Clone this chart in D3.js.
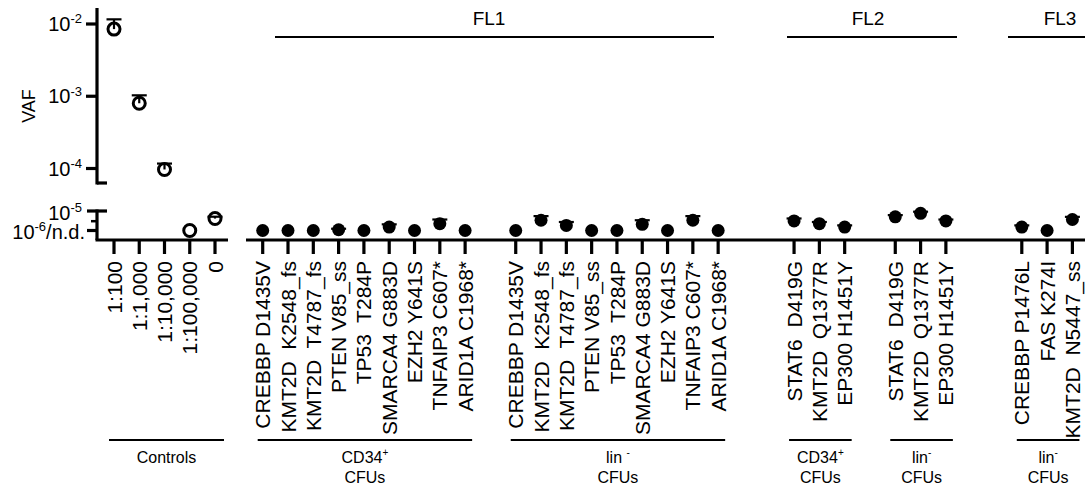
<!DOCTYPE html>
<html>
<head>
<meta charset="utf-8">
<script src="https://cdn.jsdelivr.net/npm/d3@7"></script>
<style>
  html, body { margin: 0; padding: 0; background: #fff; }
  svg { display: block; font-family: "Liberation Sans", Arial, sans-serif; }
  text { white-space: pre; }
</style>
</head>
<body>
<svg id="chart" width="1085" height="490"></svg>
<script>
// ---- Data -------------------------------------------------------------
// Dilution controls (open circles)
const controlLabels = ["1:100", "1:1,000", "1:10,000", "1:100,000", "0"];
const controlVaf    = [8.5e-3, 8.0e-4, 9.7e-5, 1e-6, 4.1e-6];
const controlUpper  = [1.16e-2, 1.03e-3, 1.17e-4, null, 5.1e-6];

// FL1 mutations
const fl1Mutations = ["CREBBP D1435V", "KMT2D  K2548_fs", "KMT2D  T4787_fs", "PTEN V85_ss",
                      "TP53  T284P", "SMARCA4 G883D", "EZH2 Y641S", "TNFAIP3 C607*", "ARID1A C1968*"];
const fl1Cd34Vaf   = [1e-6, 1e-6, 1e-6, 1.09e-6, 1e-6, 1.49e-6, 1e-6, 2.25e-6, 1e-6];
const fl1Cd34Upper = [null, null, null, 1.23e-6, null, 2.07e-6, null, 3.66e-6, null];
const fl1LinVaf    = [1e-6, 3.36e-6, 1.83e-6, 1e-6, 1e-6, 2.07e-6, 1e-6, 3.36e-6, 1e-6];
const fl1LinUpper  = [null, 5.46e-6, 2.73e-6, null, null, 3.36e-6, null, 5.46e-6, null];

// FL2 mutations
const fl2Mutations = ["STAT6  D419G", "KMT2D  Q1377R", "EP300 H1451Y"];
const fl2Cd34Vaf   = [3.09e-6, 2.25e-6, 1.49e-6];
const fl2Cd34Upper = [4.13e-6, 2.73e-6, 1.83e-6];
const fl2LinVaf    = [5.01e-6, 7.57e-6, 3.09e-6];
const fl2LinUpper  = [6.16e-6, 9.19e-6, 3.66e-6];

// FL3 mutations
const fl3Mutations = ["CREBBP P1476L", "FAS K274I", "KMT2D  N5447_ss"];
const fl3LinVaf    = [1.49e-6, 1e-6, 3.66e-6];
const fl3LinUpper  = [1.83e-6, null, 5.01e-6];

// Y tick labels: [value, exponent, suffix]
const upperTicks = [[1e-2, "-2", ""], [1e-3, "-3", ""], [1e-4, "-4", ""]];
const lowerTicks = [[1e-5, "-5", ""], [1e-6, "-6", "/n.d."]];

// ---- Layout -----------------------------------------------------------
const svg = d3.select("#chart");
const FONT = 20;
const XFONT = 21;
const baseY = 240;
const axisX = 97;

// broken log axis: upper panel and lower (near-detection-limit) panel
const yUpper = d3.scaleLog().domain([1e-4, 1e-2]).range([168.5, 24]);
const yLower = d3.scaleLog().domain([1e-6, 1e-5]).range([230.5, 211]);
const yOf = v => (v > 3e-5 ? yUpper(v) : yLower(v));

// x: controls on their own segment, mutations on evenly spaced slots
const xCtrl = d3.scalePoint().domain(controlLabels).range([114, 215]);
const xSlot = d3.scaleLinear().domain([0, 32]).range([262.7, 1072.4]);

// sample blocks
const blocks = [
  { names: fl1Mutations, vaf: fl1Cd34Vaf, upper: fl1Cd34Upper, start: 0,  label: ["CD34", "+"], sub: "CFUs" },
  { names: fl1Mutations, vaf: fl1LinVaf,  upper: fl1LinUpper,  start: 10, label: ["lin ", "-"], sub: "CFUs" },
  { names: fl2Mutations, vaf: fl2Cd34Vaf, upper: fl2Cd34Upper, start: 21, label: ["CD34", "+"], sub: "CFUs" },
  { names: fl2Mutations, vaf: fl2LinVaf,  upper: fl2LinUpper,  start: 25, label: ["lin", "-"],  sub: "CFUs" },
  { names: fl3Mutations, vaf: fl3LinVaf,  upper: fl3LinUpper,  start: 30, label: ["lin", "-"],  sub: "CFUs" }
];
const patients = [
  { name: "FL1", from: 275, to: 714, tx: 489 },
  { name: "FL2", from: 787, to: 957, tx: 868 },
  { name: "FL3", from: 1008, to: 1085, tx: 1060 }
];

// ---- Y axis -----------------------------------------------------------
const ax = svg.append("g").attr("stroke", "#000").attr("stroke-width", 3.2);
ax.append("line").attr("x1", axisX).attr("x2", axisX).attr("y1", 8).attr("y2", 184.5);
ax.append("line").attr("x1", axisX).attr("x2", 107).attr("y1", 183).attr("y2", 183);
ax.append("line").attr("x1", axisX).attr("x2", axisX).attr("y1", 209.5).attr("y2", baseY);
ax.append("line").attr("x1", axisX).attr("x2", 107).attr("y1", yLower(1e-5)).attr("y2", yLower(1e-5));

upperTicks.forEach(([v]) => {
  ax.append("line").attr("x1", 86).attr("x2", axisX).attr("y1", yUpper(v)).attr("y2", yUpper(v));
});
lowerTicks.forEach(([v]) => {
  ax.append("line").attr("x1", 87).attr("x2", axisX).attr("y1", yLower(v)).attr("y2", yLower(v));
});
[3e-6].forEach(v => {
  ax.append("line").attr("x1", 91).attr("x2", axisX).attr("y1", yLower(v)).attr("y2", yLower(v))
    .attr("stroke-width", 2.5);
});

function powerLabel(g, x, y, exp, suffix) {
  const t = g.append("text").attr("x", x).attr("y", y).attr("text-anchor", "end")
    .attr("font-size", FONT).attr("dy", "0.36em");
  t.append("tspan").text("10");
  t.append("tspan").attr("font-size", 13).attr("dy", "-0.6em").text(exp);
  if (suffix) t.append("tspan").attr("font-size", FONT).attr("dy", "0.39em").text(suffix);
}
const labG = svg.append("g");
upperTicks.forEach(([v, e, s]) => powerLabel(labG, 82, yUpper(v), e, s));
powerLabel(labG, 82, yLower(1e-5) + 2, "-5", "");
powerLabel(labG, 85, yLower(1e-6) + 1.5, "-6", "/n.d.");

svg.append("text").attr("transform", "translate(35,106) rotate(-90)")
  .attr("text-anchor", "middle").attr("font-size", 18).text("VAF");

// ---- X axis -----------------------------------------------------------
const xa = svg.append("g").attr("stroke", "#000");
xa.append("line").attr("x1", axisX - 1.5).attr("x2", 228).attr("y1", baseY).attr("y2", baseY).attr("stroke-width", 3.2);
xa.append("line").attr("x1", 246).attr("x2", 1085).attr("y1", baseY).attr("y2", baseY).attr("stroke-width", 3.2);

const tickTop = baseY, tickBot = 254, labelEnd = 261;

controlLabels.forEach(c => {
  const x = xCtrl(c);
  xa.append("line").attr("x1", x).attr("x2", x).attr("y1", tickTop).attr("y2", tickBot).attr("stroke-width", 3.2);
  svg.append("text").attr("transform", `translate(${x},${labelEnd}) rotate(-90)`)
    .attr("text-anchor", "end").attr("dy", "0.36em").attr("font-size", XFONT).text(c);
});

blocks.forEach(b => {
  b.names.forEach((n, i) => {
    const x = xSlot(b.start + i);
    xa.append("line").attr("x1", x).attr("x2", x).attr("y1", tickTop).attr("y2", tickBot).attr("stroke-width", 3.2);
    svg.append("text").attr("transform", `translate(${x},${labelEnd}) rotate(-90)`)
      .attr("text-anchor", "end").attr("dy", "0.36em").attr("font-size", XFONT).text(n);
  });
});

// ---- Group brackets below the axis -------------------------------------
const grp = svg.append("g");
function groupLabel(x0, x1, lines) {
  grp.append("line").attr("x1", x0).attr("x2", x1).attr("y1", 440).attr("y2", 440)
    .attr("stroke", "#000").attr("stroke-width", 2);
  const cx = (x0 + x1) / 2;
  lines.forEach((ln, k) => {
    const t = grp.append("text").attr("x", cx).attr("y", 463 + k * 20)
      .attr("text-anchor", "middle").attr("font-size", 16);
    if (Array.isArray(ln)) {
      t.append("tspan").text(ln[0]);
      t.append("tspan").attr("font-size", 10).attr("dy", "-0.7em").text(ln[1]);
    } else {
      t.text(ln);
    }
  });
}
groupLabel(xCtrl(controlLabels[0]) - 5, xCtrl(controlLabels[controlLabels.length - 1]) + 9, ["Controls"]);
blocks.forEach(b => {
  const x0 = xSlot(b.start) - 5;
  const x1 = Math.min(1085, xSlot(b.start + b.names.length - 1) + 7);
  groupLabel(x0, x1, [b.label, b.sub]);
});

// ---- Patient headers ------------------------------------------------------
patients.forEach(p => {
  svg.append("line").attr("x1", p.from).attr("x2", p.to).attr("y1", 37).attr("y2", 37)
    .attr("stroke", "#000").attr("stroke-width", 2);
  svg.append("text").attr("x", p.tx).attr("y", 25).attr("text-anchor", "middle")
    .attr("font-size", 19).text(p.name);
});

// ---- Points with upper error bars --------------------------------------
const pts = svg.append("g");
function errorBar(x, v, up) {
  if (up == null) return;
  pts.append("line").attr("x1", x).attr("x2", x).attr("y1", yOf(v)).attr("y2", yOf(up))
    .attr("stroke", "#000").attr("stroke-width", 2.2);
  pts.append("line").attr("x1", x - 7.5).attr("x2", x + 7.5).attr("y1", yOf(up)).attr("y2", yOf(up))
    .attr("stroke", "#000").attr("stroke-width", 2.2);
}

controlLabels.forEach((c, i) => {
  const x = xCtrl(c);
  errorBar(x, controlVaf[i], controlUpper[i]);
  pts.append("circle").attr("cx", x).attr("cy", yOf(controlVaf[i])).attr("r", 6)
    .attr("fill", "none").attr("stroke", "#000").attr("stroke-width", 3);
});

blocks.forEach(b => {
  b.vaf.forEach((v, i) => {
    const x = xSlot(b.start + i);
    errorBar(x, v, b.upper[i]);
    pts.append("circle").attr("cx", x).attr("cy", yOf(v)).attr("r", 6.5).attr("fill", "#000");
  });
});
</script>
</body>
</html>
